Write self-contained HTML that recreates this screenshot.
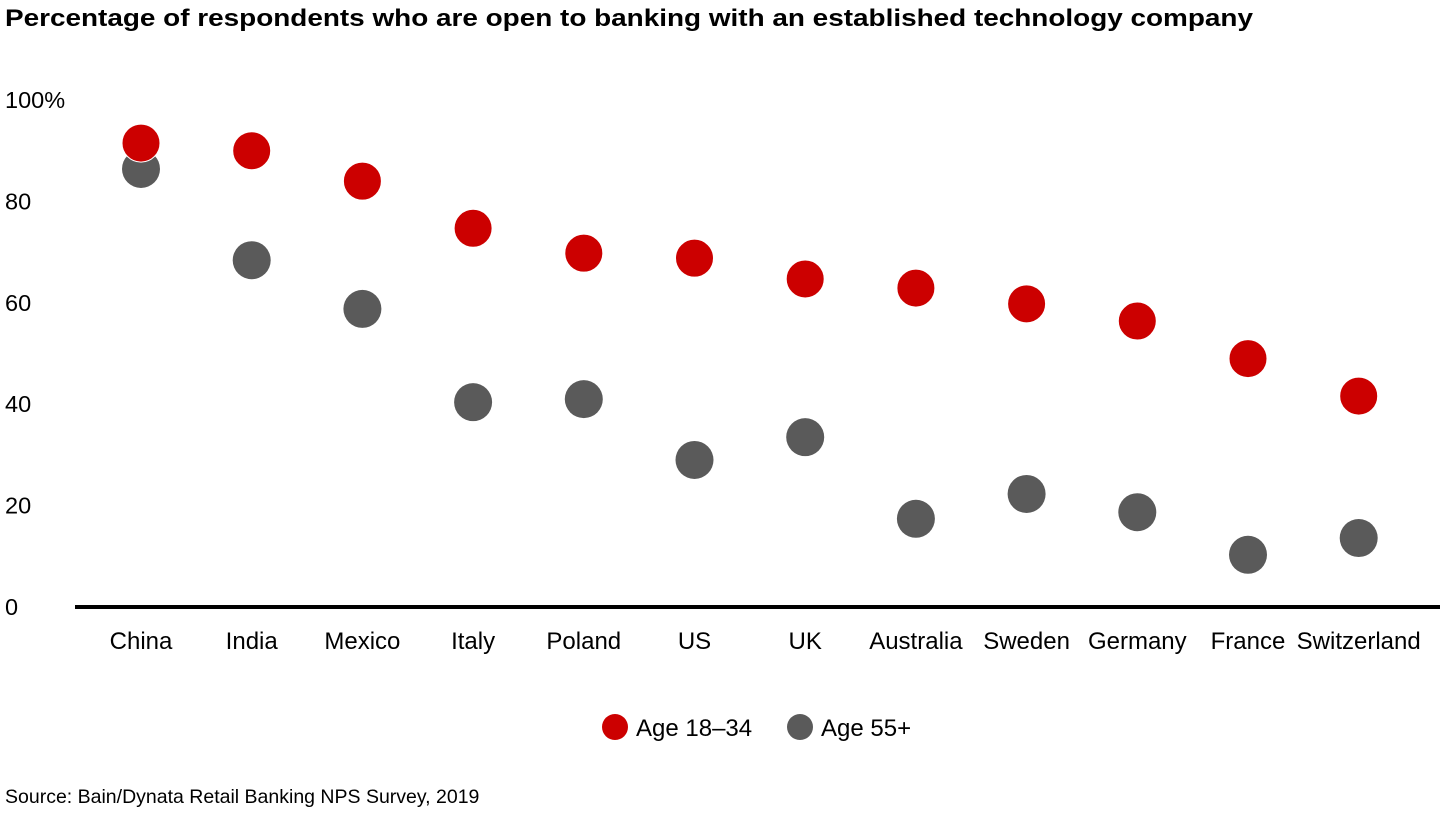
<!DOCTYPE html>
<html><head><meta charset="utf-8"><style>
body{margin:0;background:#fff;font-family:"Liberation Sans",Arial,sans-serif;}
svg text{font-family:"Liberation Sans",Arial,sans-serif;}
</style></head><body>
<svg id="chart" width="1440" height="810" xmlns="http://www.w3.org/2000/svg">
<text x="5" y="26" font-size="24" font-weight="bold" fill="#000" textLength="1248" lengthAdjust="spacingAndGlyphs">Percentage of respondents who are open to banking with an established technology company</text>
<g id="yticks"></g>
<line x1="75" y1="607" x2="1440" y2="607" stroke="#000" stroke-width="4"/>
<g id="xlabels"></g>
<g id="gray"></g>
<g id="red"></g>
<circle cx="615" cy="727" r="13" fill="#cc0000"/>
<text x="636" y="736" font-size="24">Age 18–34</text>
<circle cx="800" cy="727" r="13" fill="#5a5a5a"/>
<text x="821" y="736" font-size="24">Age 55+</text>
<text x="5" y="803" font-size="19.5">Source: Bain/Dynata Retail Banking NPS Survey, 2019</text>
</svg>
<script>
const categories=["China","India","Mexico","Italy","Poland","US","UK","Australia","Sweden","Germany","France","Switzerland"];
const young=[91.5,90,84,74.7,69.8,68.8,64.7,62.9,59.8,56.4,49,41.6];
const old=[86.4,68.4,58.8,40.4,41,29,33.5,17.4,22.3,18.7,10.3,13.6];
const yTicks=[0,20,40,60,80,100];
const yTickLabels=["0","20","40","60","80","100%"];
const NS="http://www.w3.org/2000/svg";
const y=v=>607-v*5.07;
const x=i=>141+i*110.7;
function mk(t,a){const e=document.createElementNS(NS,t);for(const k in a)e.setAttribute(k,a[k]);return e;}
const yt=document.getElementById('yticks');
yTicks.forEach((v,i)=>{const t=mk('text',{x:5,y:y(v)+8,'font-size':23.5});t.textContent=yTickLabels[i];


yt.appendChild(t);});
const xl=document.getElementById('xlabels');
categories.forEach((c,i)=>{const t=mk('text',{x:x(i),y:649,'font-size':24,'text-anchor':'middle'});t.textContent=c;


xl.appendChild(t);});
const g=document.getElementById('gray'),r=document.getElementById('red');
old.forEach((v,i)=>{const c=mk('circle',{cx:x(i),cy:y(v),r:19,fill:'#5a5a5a'});


g.appendChild(c);});
young.forEach((v,i)=>{const c=mk('circle',{cx:x(i),cy:y(v),r:19,fill:'#cc0000',stroke:'#fff','stroke-width':1});


r.appendChild(c);});
</script>
</body></html>
